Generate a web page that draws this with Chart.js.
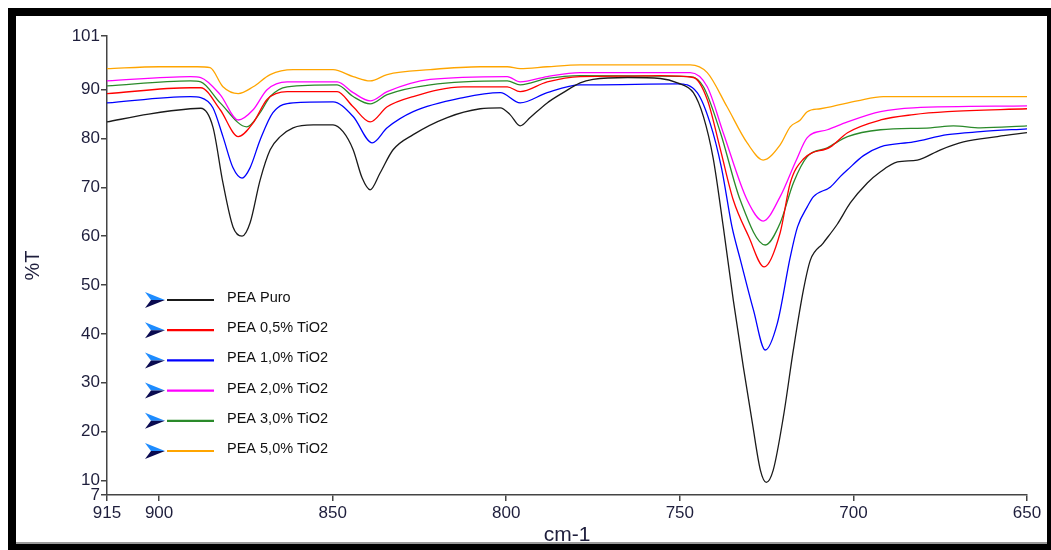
<!DOCTYPE html>
<html lang="es">
<head>
  <meta charset="UTF-8">
  <title>PEA TiO2 FTIR</title>
  <script src="https://cdn.jsdelivr.net/npm/chart.js"></script>
  <style>
    body {
      margin: 0;
      padding: 0;
      background: #fff;
      font-family: 'Liberation Sans', Arial, sans-serif;
    }
    #frame {
      position: absolute;
      left: 8px;
      top: 8px;
      width: 1043px;
      height: 542px;
      background: #000;
    }
    #inner {
      position: absolute;
      left: 16px;
      top: 16px;
      width: 1031px;
      height: 526px;
      background: #fff;
      border-bottom: 2px solid #9a9a9a;
    }
    #chart {
      position: absolute;
      left: 0;
      top: 0;
    }
  </style>
</head>
<body>
  <div id="frame"></div>
  <div id="inner"></div>
  <canvas id="chart" width="1051" height="550"></canvas>

  <script>
    // tick labels
    const xTicks = [915, 900, 850, 800, 750, 700, 650];
    const yTicks = [7, 10, 20, 30, 40, 50, 60, 70, 80, 90, 101];

    const seriesNames = ['PEA Puro', 'PEA 0,5% TiO2', 'PEA 1,0% TiO2', 'PEA 2,0% TiO2', 'PEA 3,0% TiO2', 'PEA 5,0% TiO2'];
    const seriesColors = ['#1a1a1a', '#ff0000', '#0000ff', '#ff00ff', '#2a8a2a', '#ffa500'];

    // PEA Puro
    const puroX = [915, 903, 891, 888, 884.5, 881.6, 878.7, 876.1, 873.8, 870.9, 868, 865.1, 861.4, 855.6, 849.9, 847, 844.1, 841.5, 839.2, 836.3, 832.6, 826.8, 817, 807.5, 801.7, 798.9, 796, 793.1, 788.2, 783.6, 778.7, 775, 765, 755.6, 750.7, 746.1, 743.2, 740.4, 737.5, 734.6, 731.7, 729.1, 726.8, 725.1, 723.1, 720.2, 717.3, 714.4, 712.4, 708.7, 704.6, 700.9, 696, 692.2, 687.3, 681.6, 674.9, 668.3, 658.5, 650];
    const puroY = [83.4, 85.0, 86.1, 86.2, 82.4, 70.9, 61.9, 60.0, 62.7, 71.5, 77.7, 80.4, 82.2, 82.8, 82.8, 81.4, 77.7, 71.9, 69.5, 73.0, 77.7, 80.8, 84.3, 86.1, 86.3, 84.9, 82.6, 84.3, 87.3, 89.4, 91.4, 92.1, 92.5, 92.3, 91.4, 89.4, 84.5, 76.0, 62.0, 46.9, 33.2, 21.7, 12.1, 9.6, 12.1, 22.9, 36.7, 49.0, 55.1, 58.6, 62.5, 66.8, 70.9, 73.2, 75.2, 75.6, 77.7, 79.3, 80.4, 81.2];

    // PEA 0,5% TiO2
    const t05X = [915, 891, 888, 882.4, 877.2, 872.9, 868.9, 863.1, 848.7, 844.1, 839.2, 834.3, 826.8, 812.4, 799.7, 796, 788.2, 778.7, 765, 755.6, 746.1, 742.1, 738.3, 734.6, 730.2, 725.7, 721.1, 718.2, 714.4, 706.6, 701.7, 692.2, 682.7, 672.9, 650];
    const t05Y = [89.2, 90.4, 90.4, 85.9, 80.4, 83.2, 88.0, 89.6, 89.6, 86.5, 83.4, 86.5, 88.6, 90.6, 90.6, 89.6, 91.6, 92.7, 92.8, 92.9, 92.5, 88.0, 77.7, 67.4, 60.0, 53.7, 60.7, 70.9, 75.8, 78.3, 81.2, 83.8, 84.9, 85.5, 86.1];

    // PEA 1,0% TiO2
    const t10X = [915, 891, 888, 884.5, 881.6, 878.7, 876.1, 873.8, 870.9, 867.2, 861.4, 849.9, 844.1, 838.6, 834.3, 826.8, 812.4, 801.7, 796, 788.2, 778.7, 775, 750.7, 745, 741.3, 738, 735, 732.5, 728.8, 725.4, 721.9, 718.2, 716.1, 713.3, 711.5, 706.6, 703.8, 701.7, 697.1, 692.2, 682.7, 672.9, 663.4, 650];
    const t10Y = [87.3, 88.6, 88.4, 86.3, 80.4, 74.0, 71.9, 74.0, 79.7, 85.3, 87.3, 87.5, 84.5, 79.1, 82.2, 85.5, 88.4, 89.4, 87.3, 89.4, 91.0, 91.0, 91.2, 89.4, 83.2, 74.0, 62.0, 55.0, 44.9, 36.7, 42.2, 55.7, 61.9, 66.0, 68.1, 70.1, 72.2, 73.6, 76.5, 78.3, 79.3, 80.8, 81.4, 82.0];

    // PEA 2,0% TiO2
    const t20X = [915, 891, 888, 882.4, 877.2, 872.9, 868.9, 863.1, 848.7, 844.1, 839.2, 834.3, 821.9, 799.7, 796, 788.2, 778.7, 747, 742.1, 737.5, 730.6, 726, 721.1, 716.5, 713.3, 707.5, 701.7, 692.2, 682.7, 650];
    const t20Y = [91.8, 92.7, 92.5, 89.0, 83.8, 85.9, 90.0, 91.6, 91.6, 89.4, 87.7, 89.6, 92.1, 92.7, 91.6, 92.7, 93.5, 93.5, 90.6, 81.2, 67.4, 63.1, 68.1, 75.5, 80.2, 81.8, 83.4, 85.5, 86.3, 86.7];

    // PEA 3,0% TiO2
    const t30X = [915, 891, 888, 882.4, 874.7, 870.9, 868, 863.1, 848.7, 844.1, 839.2, 834.3, 821.9, 799.7, 796, 788.2, 778.7, 747, 743.2, 738.3, 732.6, 725.4, 721.1, 717.3, 713.3, 707.5, 701.7, 692.2, 677.8, 671.2, 663.4, 650];
    const t30Y = [90.8, 91.8, 91.6, 87.3, 82.4, 85.3, 88.6, 90.6, 91.0, 88.6, 87.1, 89.0, 91.0, 91.8, 91.0, 92.3, 92.9, 92.7, 90.6, 81.2, 67.4, 58.2, 62.7, 70.9, 76.3, 78.1, 80.4, 81.8, 82.2, 82.6, 82.2, 82.6];

    // PEA 5,0% TiO2
    const t50X = [915, 900, 889, 885.3, 881.6, 877.2, 872.9, 868, 861.4, 849.9, 844.1, 839.2, 834.3, 821.9, 807.5, 799.7, 796, 788.2, 778.7, 747, 742.1, 736.4, 730.6, 726, 721.1, 718.2, 715.3, 713.3, 709.5, 706.6, 698.9, 691.4, 650];
    const t50Y = [94.3, 94.7, 94.7, 94.5, 90.6, 89.2, 90.6, 93.1, 94.1, 94.1, 92.7, 91.8, 93.1, 94.1, 94.7, 94.7, 94.3, 94.7, 95.1, 95.1, 93.5, 86.5, 79.1, 75.6, 78.7, 82.4, 83.8, 85.5, 86.1, 86.5, 87.7, 88.6, 88.6];

    const seriesX = [puroX, t05X, t10X, t20X, t30X, t50X];
    const seriesY = [puroY, t05Y, t10Y, t20Y, t30Y, t50Y];

    const textColor = '#1e1e3c';
    const axisColor = '#444444';
    const fontFamily = "'Liberation Sans', Arial, sans-serif";

    const datasets = seriesNames.map((name, i) => ({
      label: name,
      data: seriesX[i].map((x, j) => ({ x: x, y: seriesY[i][j] })),
      borderColor: seriesColors[i],
      backgroundColor: seriesColors[i],
      borderWidth: 1.3,
      pointRadius: 0,
      cubicInterpolationMode: 'monotone',
      fill: false
    }));

    // legend drawn inside the plot, with the little arrow before each line
    const insideLegend = {
      id: 'insideLegend',
      afterDraw(chart) {
        const ctx = chart.ctx;
        const x0 = 145;
        const y0 = 300;
        const step = 30.2;
        ctx.save();
        chart.data.datasets.forEach((ds, i) => {
          const y = y0 + i * step;
          // arrow
          ctx.beginPath();
          ctx.moveTo(x0, y - 8);
          ctx.lineTo(x0 + 20, y);
          ctx.lineTo(x0 + 6, y);
          ctx.closePath();
          ctx.fillStyle = '#1e8cff';
          ctx.fill();
          ctx.beginPath();
          ctx.moveTo(x0 + 6, y);
          ctx.lineTo(x0 + 20, y);
          ctx.lineTo(x0, y + 8);
          ctx.closePath();
          ctx.fillStyle = '#0a0a50';
          ctx.fill();
          // line sample
          ctx.beginPath();
          ctx.moveTo(x0 + 22, y);
          ctx.lineTo(x0 + 69, y);
          ctx.strokeStyle = ds.borderColor;
          ctx.lineWidth = 2.2;
          ctx.stroke();
          // label
          ctx.fillStyle = '#111';
          ctx.font = '14.5px ' + fontFamily;
          ctx.textBaseline = 'middle';
          ctx.textAlign = 'left';
          ctx.fillText(ds.label, x0 + 82, y - 2);
        });
        ctx.restore();
      }
    };

    new Chart(document.getElementById('chart').getContext('2d'), {
      type: 'line',
      data: { datasets: datasets },
      options: {
        responsive: false,
        animation: false,
        devicePixelRatio: 1,
        layout: { padding: { left: 0, right: 24, top: 36, bottom: 0 } },
        plugins: {
          legend: { display: false },
          tooltip: { enabled: false }
        },
        scales: {
          x: {
            type: 'linear',
            reverse: true,
            min: 650,
            max: 915,
            afterBuildTicks: (scale) => { scale.ticks = xTicks.map(v => ({ value: v })); },
            afterFit: (scale) => { scale.height = 55; },
            grid: { drawOnChartArea: false, drawTicks: true, tickLength: 6, color: axisColor, lineWidth: 1.5 },
            border: { color: axisColor, width: 1.5 },
            ticks: {
              autoSkip: false,
              maxRotation: 0,
              padding: 2,
              color: textColor,
              font: { size: 17, family: fontFamily }
            },
            title: {
              display: true,
              text: 'cm-1',
              color: textColor,
              font: { size: 21, family: fontFamily },
              padding: { top: 0, bottom: 2 }
            }
          },
          y: {
            min: 7,
            max: 101,
            afterBuildTicks: (scale) => { scale.ticks = yTicks.map(v => ({ value: v })); },
            afterFit: (scale) => { scale.width = 107; },
            grid: { drawOnChartArea: false, drawTicks: true, tickLength: 6, color: axisColor, lineWidth: 1.5 },
            border: { color: axisColor, width: 1.5 },
            ticks: {
              autoSkip: false,
              padding: 1,
              color: textColor,
              font: { size: 17, family: fontFamily }
            },
            title: {
              display: true,
              text: '%T',
              color: textColor,
              font: { size: 20, family: fontFamily },
              padding: { top: 21, bottom: 0 }
            }
          }
        }
      },
      plugins: [insideLegend]
    });
  </script>
</body>
</html>
